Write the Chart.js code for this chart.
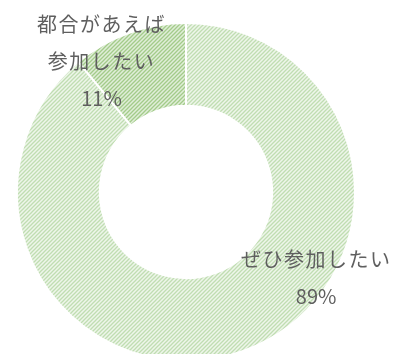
<!DOCTYPE html>
<html>
<head>
<meta charset="utf-8">
<script src="https://cdn.jsdelivr.net/npm/chart.js@4"></script>
<style>
  html, body { margin: 0; padding: 0; background: #fff; overflow: hidden; }
  #wrap { position: relative; width: 399px; height: 380px; }
</style>
</head>
<body>
<div id="wrap"><canvas id="pieChart"></canvas></div>
<script>
const labels = ["ぜひ参加したい", "都合があえば\n参加したい"];
const values = [89, 11];
const labelLines = [["ぜひ参加したい", "89%"], ["都合があえば", "参加したい", "11%"]];
// label anchors as fractions of outer radius from the centre
const labelOffsets = [[0.77, 0.51], [-0.5, -0.775]];

function hatch(bg, line) {
  const c = document.createElement("canvas");
  c.width = 4; c.height = 4;
  const g = c.getContext("2d");
  g.fillStyle = bg;
  g.fillRect(0, 0, 4, 4);
  g.strokeStyle = line;
  g.lineWidth = 1.3;
  g.beginPath();
  g.moveTo(-1, 5); g.lineTo(5, -1);
  g.moveTo(-1, 1); g.lineTo(1, -1);
  g.moveTo(3, 5); g.lineTo(5, 3);
  g.stroke();
  return g.createPattern(c, "repeat");
}

const labelPlugin = {
  id: "sliceLabels",
  afterDatasetsDraw(chart) {
    const ctx = chart.ctx;
    const arcs = chart.getDatasetMeta(0).data;
    ctx.save();
    ctx.font = "20px 'Noto Sans CJK JP'";
    ctx.fillStyle = "#5f5f5f";
    ctx.textAlign = "center";
    ctx.textBaseline = "middle";
    arcs.forEach(function (arc, i) {
      const lines = labelLines[i];
      const cx = arc.x + labelOffsets[i][0] * arc.outerRadius;
      const cy = arc.y + labelOffsets[i][1] * arc.outerRadius;
      const lh = 37;
      const top = cy - (lines.length - 1) * lh / 2;
      lines.forEach(function (t, k) {
        ctx.letterSpacing = t.endsWith("%") ? "0px" : "1.5px";
        ctx.fillText(t, cx, top + k * lh);
      });
    });
    ctx.restore();
  }
};

document.addEventListener("DOMContentLoaded", function () {
  new Chart(document.getElementById("pieChart"), {
    type: "doughnut",
    data: {
      labels: labels,
      datasets: [{
        data: values,
        backgroundColor: [hatch("#eef6ea", "#c0ddb2"), hatch("#e0eed8", "#a3cb8a")],
        borderColor: "#ffffff",
        borderWidth: 2
      }]
    },
    options: {
      responsive: true,
      maintainAspectRatio: false,
      animation: false,
      cutout: "51%",
      layout: {padding: {left: 16, right: 43, top: 22, bottom: 18}},
      plugins: {legend: {display: false}, tooltip: {enabled: false}}
    },
    plugins: [labelPlugin]
  });
});
</script>
</body>
</html>
